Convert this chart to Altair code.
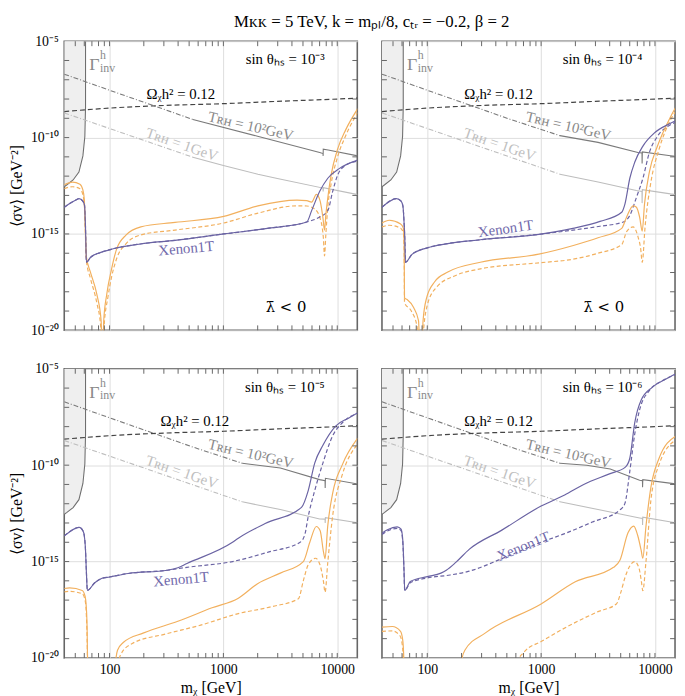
import altair as alt
import pandas as pd

FONT = "Liberation Serif"
ORANGE = "#f2b05e"
PURPLE = "#6a63a3"
PURPLE_TXT = "#7169ab"
OMEGA_C = "#444444"
TRH100_C = "#7a7a7a"
TRH1_C = "#bdbdbd"
FRAME_C = "#666666"

X_DOMAIN = [40, 15000]
Y_DOMAIN = [1e-20, 1e-5]
X_GRID = [100, 1000, 10000]
Y_GRID = [1e-20, 1e-15, 1e-10, 1e-5]
X_TICKS = [50, 60, 70, 80, 90, 100, 200, 300, 400, 500, 600, 700, 800, 900,
           1000, 2000, 3000, 4000, 5000, 6000, 7000, 8000, 9000, 10000]
Y_TICKS = [1e-19, 1e-18, 1e-17, 1e-16, 1e-15, 1e-14, 1e-13, 1e-12, 1e-11,
           1e-10, 1e-9, 1e-8, 1e-7, 1e-6]

# every curve: (log10 m_chi [GeV], log10 <sigma v> [GeV^-2])
GAMMA_INV = [(1.789, -5.0), (1.789, -8.44), (1.783, -9.94), (1.766, -10.95),
             (1.731, -11.79), (1.68, -12.2), (1.623, -12.46), (1.602, -12.55)]
OMEGA = [(1.602, -8.65), (2.0, -8.47), (2.5, -8.33), (3.0, -8.24), (3.474, -8.12),
         (4.0, -8.0), (4.18, -7.95)]
TRH100_DASHDOT_SHORT = [(1.602, -6.71), (2.018, -7.58), (2.732, -9.06)]
TRH100_DASHDOT_LONG = [(1.602, -6.71), (2.018, -7.58), (2.732, -9.06), (3.165, -9.9)]
TRH1_DASHDOT_SHORT = [(1.602, -8.72), (2.732, -11.02)]
TRH1_DASHDOT_LONG = [(1.602, -8.72), (2.732, -11.02), (3.165, -11.9)]

# ---- panel 1: sin theta = 1e-3
P1_TRH100_SOLID = [(2.732, -9.06), (3.3, -9.93), (3.846, -10.77), (3.875, -10.83),
                   (3.876, -10.95), (3.877, -10.6), (3.92, -10.64), (4.18, -10.95)]
P1_TRH1_SOLID = [(2.732, -11.02), (3.0, -11.45), (3.303, -11.9), (3.474, -12.12),
                 (3.875, -12.62), (3.876, -12.8), (3.878, -12.6), (4.18, -12.96)]
P1_PURPLE_SOLID = [(1.602, -13.62), (1.65, -13.42), (1.70, -13.25), (1.732, -13.17),
                   (1.765, -13.3), (1.78, -13.5), (1.788, -14.5), (1.797, -16.47),
                   (1.832, -16.22), (1.918, -15.97), (2.032, -15.77), (2.27, -15.52),
                   (2.575, -15.33), (3.003, -15.0), (3.4, -14.7), (3.732, -14.38),
                   (3.775, -13.79), (3.846, -12.79), (3.917, -12.11), (4.017, -11.61),
                   (4.18, -11.17)]
P1_PURPLE_DASHED = P1_PURPLE_SOLID[:16] + [(3.846, -14.12), (3.917, -13.79), (3.96, -12.79),
                                          (4.003, -11.95), (4.074, -11.44), (4.18, -11.22)]
P1_ORANGE_SOLID = [(1.602, -12.45), (1.675, -12.31), (1.74, -12.42), (1.765, -12.7),
                   (1.778, -13.2), (1.785, -14.3), (1.792, -15.6), (1.797, -16.2),
                   (1.832, -16.98), (1.889, -18.15), (1.926, -19.5), (1.938, -22.0),
                   (1.949, -19.5), (1.975, -18.14), (2.018, -16.81), (2.061, -15.8),
                   (2.146, -15.05), (2.275, -14.63), (2.575, -14.4), (3.003, -14.09),
                   (3.303, -13.54), (3.646, -13.24), (3.732, -13.27), (3.775, -13.35),
                   (3.817, -12.95), (3.85, -13.3), (3.875, -14.2), (3.888, -14.8),
                   (3.90, -14.0), (3.917, -13.12), (3.946, -11.95), (4.003, -10.6),
                   (4.074, -9.6), (4.18, -8.5)]
P1_ORANGE_DASHED = [(1.602, -12.65), (1.675, -12.55), (1.74, -12.65), (1.765, -12.95),
                    (1.778, -13.5), (1.785, -14.5), (1.792, -15.8), (1.797, -16.4),
                    (1.832, -17.3), (1.889, -18.6), (1.922, -19.8), (1.937, -22.5),
                    (1.952, -19.8), (1.985, -18.3), (2.018, -17.23), (2.061, -16.3),
                    (2.146, -15.5), (2.275, -15.05), (2.575, -14.8), (3.003, -14.43),
                    (3.303, -13.92), (3.646, -13.54), (3.732, -13.55), (3.80, -13.7),
                    (3.85, -14.2), (3.878, -15.2), (3.888, -16.14), (3.90, -15.0),
                    (3.917, -13.6), (3.946, -12.4), (4.003, -11.0), (4.074, -9.9),
                    (4.18, -8.7)]

# ---- panel 2: sin theta = 1e-4
P2_TRH100_SOLID = [(3.165, -9.9), (3.5, -10.25), (3.85, -10.77), (3.886, -10.8),
                   (3.887, -11.35), (3.889, -10.74), (4.136, -10.94), (4.18, -10.97)]
P2_TRH1_SOLID = [(3.165, -11.9), (3.5, -12.3), (3.836, -12.75), (3.886, -12.8),
                 (3.887, -13.4), (3.889, -12.7), (4.136, -12.92), (4.18, -12.95)]
P2_PURPLE_SOLID = [(1.602, -13.62), (1.729, -13.17), (1.77, -13.3), (1.786, -13.55),
                   (1.797, -14.5), (1.803, -15.3), (1.808, -16.47), (1.866, -16.06),
                   (2.0, -15.72), (2.18, -15.5), (2.466, -15.3), (2.98, -15.02),
                   (3.279, -14.71), (3.517, -14.35), (3.708, -13.87), (3.736, -13.45),
                   (3.779, -12.11), (3.822, -11.28), (3.894, -10.44), (3.993, -9.77),
                   (4.136, -9.26), (4.18, -9.13)]
P2_PURPLE_DASHED = P2_PURPLE_SOLID[:12] + [(3.279, -14.8), (3.517, -14.6), (3.722, -14.38),
                                          (3.779, -14.04), (3.836, -13.12), (3.894, -12.11),
                                          (3.951, -10.77), (4.022, -9.93), (4.136, -9.34),
                                          (4.18, -9.2)]
P2_ORANGE_SOLID = [(1.602, -14.43), (1.666, -14.29), (1.766, -14.48), (1.79, -14.7),
                   (1.797, -15.6), (1.80, -18.32), (1.823, -18.4), (1.88, -18.82),
                   (1.923, -19.5), (1.943, -22.5), (1.963, -19.5), (1.994, -18.32),
                   (2.065, -17.48), (2.18, -16.98), (2.466, -16.47), (2.98, -16.05),
                   (3.283, -15.6), (3.5, -15.2), (3.708, -14.71), (3.751, -14.12),
                   (3.808, -13.54), (3.835, -13.6), (3.865, -14.12), (3.888, -14.85),
                   (3.908, -13.45), (3.951, -11.78), (4.022, -10.44), (4.136, -8.93),
                   (4.18, -8.45)]
P2_ORANGE_DASHED = [(1.602, -14.63), (1.666, -14.55), (1.766, -14.7), (1.79, -14.95),
                    (1.797, -15.9), (1.80, -18.57), (1.86, -19.0), (1.91, -19.8),
                    (1.94, -22.5), (1.97, -19.8), (2.0, -18.7), (2.08, -17.77),
                    (2.24, -17.18), (2.466, -16.81), (2.98, -16.5), (3.279, -16.31),
                    (3.5, -16.0), (3.708, -15.55), (3.751, -14.88), (3.808, -14.63),
                    (3.85, -15.13), (3.875, -15.8), (3.888, -16.47), (3.913, -14.63),
                    (3.965, -12.28), (4.036, -10.6), (4.136, -9.09), (4.18, -8.65)]

# ---- panel 3: sin theta = 1e-5
P3_TRH100_SOLID = [(3.165, -9.9), (3.5, -10.15), (3.845, -10.75), (3.893, -10.8),
                   (3.894, -11.18), (3.896, -10.68), (4.18, -10.98)]
P3_TRH1_SOLID = [(3.165, -11.9), (3.5, -12.3), (3.845, -12.79), (3.893, -12.8),
                 (3.894, -13.0), (3.896, -12.72), (4.18, -12.99)]
P3_PURPLE_SOLID = [(1.602, -13.67), (1.65, -13.45), (1.734, -13.23), (1.77, -13.45),
                   (1.787, -14.2), (1.797, -15.6), (1.805, -16.5), (1.87, -16.1),
                   (1.934, -15.87), (2.0, -15.8), (2.163, -15.62), (2.507, -15.45),
                   (2.60, -15.32), (2.68, -15.1), (3.08, -14.0), (3.131, -13.79),
                   (3.367, -13.03), (3.686, -12.19), (3.745, -11.32), (3.802, -9.89),
                   (3.874, -8.97), (3.988, -7.96), (4.102, -7.55), (4.18, -7.28)]
P3_PURPLE_DASHED = P3_PURPLE_SOLID[:12] + [(2.68, -15.3), (3.08, -15.0), (3.4, -14.5),
                                          (3.674, -14.0), (3.716, -13.58), (3.745, -12.66),
                                          (3.802, -11.32), (3.874, -9.89), (3.96, -8.47),
                                          (4.045, -7.8), (4.18, -7.3)]
P3_ORANGE_SOLID = [(1.602, -16.4), (1.65, -16.37), (1.76, -16.5), (1.785, -16.8),
                   (1.795, -17.3), (1.803, -18.5), (1.81, -21.5), (1.82, -25.0),
                   (2.03, -25.0), (2.045, -20.8), (2.07, -19.6), (2.12, -19.2),
                   (2.3, -18.7), (2.6, -18.1), (2.9, -17.4), (3.131, -16.9),
                   (3.30, -16.15), (3.5, -15.6), (3.702, -15.0), (3.759, -14.0),
                   (3.816, -13.18), (3.85, -13.4), (3.879, -14.5), (3.893, -14.85),
                   (3.916, -13.18), (3.959, -11.48), (4.045, -9.97), (4.18, -8.6)]
P3_ORANGE_DASHED = [(1.602, -16.57), (1.65, -16.55), (1.76, -16.67), (1.785, -17.0),
                    (1.795, -17.6), (1.803, -19.0), (1.81, -21.5), (1.82, -25.0),
                    (2.05, -25.0), (2.065, -20.8), (2.1, -19.8), (2.2, -19.25),
                    (2.5, -18.75), (2.8, -18.3), (3.131, -17.7), (3.416, -17.35),
                    (3.659, -16.93), (3.702, -16.0), (3.745, -15.17), (3.81, -14.83),
                    (3.85, -15.2), (3.878, -16.0), (3.893, -16.59), (3.916, -15.1),
                    (3.959, -12.66), (4.045, -10.48), (4.18, -8.9)]

# ---- panel 4: sin theta = 1e-6
P4_TRH100_SOLID = [(3.165, -9.9), (3.4, -10.0), (3.607, -10.2), (3.865, -10.78),
                   (3.89, -10.8), (3.891, -11.15), (3.893, -10.75), (4.18, -10.97)]
P4_TRH1_SOLID = [(3.165, -11.9), (3.5, -12.3), (3.865, -12.74), (3.89, -12.77),
                 (3.891, -13.1), (3.893, -12.7), (4.18, -12.99)]
P4_PURPLE_SOLID = [(1.602, -13.53), (1.65, -13.35), (1.736, -13.2), (1.77, -13.32),
                   (1.785, -13.9), (1.795, -15.3), (1.802, -16.5), (1.851, -16.03),
                   (2.0, -15.78), (2.12, -15.6), (2.167, -15.45), (2.253, -15.03),
                   (2.368, -14.37), (2.655, -13.37), (3.0, -12.12), (3.207, -11.55),
                   (3.374, -11.0), (3.6, -10.45), (3.74, -10.1), (3.779, -9.64),
                   (3.822, -7.8), (3.878, -6.63), (3.979, -5.95), (4.093, -5.54),
                   (4.18, -5.27)]
P4_PURPLE_DASHED = [(1.602, -13.6), (1.65, -13.42), (1.736, -13.28), (1.77, -13.4),
                    (1.785, -14.0), (1.795, -15.4), (1.802, -16.5), (1.851, -16.1),
                    (2.0, -15.85), (2.2, -15.7), (2.368, -15.5), (2.655, -14.85),
                    (3.0, -14.0), (3.207, -13.55), (3.45, -12.95), (3.693, -12.32),
                    (3.736, -11.98), (3.779, -10.31), (3.822, -8.39), (3.865, -7.13),
                    (3.95, -6.13), (4.064, -5.62), (4.18, -5.3)]
P4_ORANGE_SOLID = [(1.602, -18.4), (1.693, -18.37), (1.765, -18.62), (1.785, -19.1),
                   (1.795, -20.3), (1.80, -22.0), (1.81, -25.0), (2.28, -25.0),
                   (2.296, -20.3), (2.33, -19.6), (2.511, -18.7), (3.0, -17.2),
                   (3.3, -16.05), (3.636, -15.3), (3.693, -14.92), (3.764, -13.49),
                   (3.813, -13.16), (3.849, -13.66), (3.878, -14.4), (3.893, -14.83),
                   (3.921, -13.16), (3.964, -11.15), (4.036, -9.64), (4.18, -8.5)]
P4_ORANGE_DASHED = [(1.602, -18.62), (1.693, -18.6), (1.76, -18.85), (1.78, -19.3),
                    (1.79, -20.3), (1.795, -22.0), (1.81, -25.0), (2.77, -25.0),
                    (2.784, -20.3), (2.85, -19.7), (3.0, -19.15), (3.287, -18.2),
                    (3.5, -17.6), (3.661, -17.2), (3.70, -16.6), (3.736, -15.84),
                    (3.822, -15.0), (3.86, -15.35), (3.88, -16.0), (3.893, -16.51),
                    (3.921, -15.0), (3.964, -11.82), (4.036, -9.97), (4.18, -8.7)]

# ---- text labels: (log10 m, log10 sv)
SIN_TEXT = ["sin θₕₛ = 10⁻³", "sin θₕₛ = 10⁻⁴", "sin θₕₛ = 10⁻⁵", "sin θₕₛ = 10⁻⁶"]
SIN_POS = (3.89, -6.2)
OMEGA_POS = [(2.626, -8.02), (2.626, -8.02), (2.75, -7.96), (2.626, -7.96)]
TRH100_POS = (3.24, -9.4)
TRH1_POS = (2.635, -10.35)
XENON_POS = [(2.673, -15.74), (2.688, -14.72), (2.628, -15.91), (2.843, -14.2)]
XENON_ANGLE = [355, 352, 355, 338]
LAMBDA_POS = (3.55, -19.04)
GAMMA_POS = (1.821, -6.49)
TITLE = "Mᴋᴋ = 5 TeV,  k = mₚₗ/8,  cₜᵣ = −0.2,  β = 2"

W, H = 297, 293


def frame(pairs):
    return pd.DataFrame({"m": [10.0 ** a for a, _ in pairs],
                         "sv": [10.0 ** b for _, b in pairs],
                         "k": list(range(len(pairs)))})


def panel(idx, curves, show_x, show_y):
    xs = alt.Scale(type="log", domain=X_DOMAIN, nice=False)
    ys = alt.Scale(type="log", domain=Y_DOMAIN, nice=False)
    xaxis = alt.Axis(values=X_GRID, format="d", labels=show_x,
                     title="mᵪ  [GeV]" if show_x else "",
                     grid=True, gridColor="#dddddd", gridWidth=1,
                     ticks=False, domain=False, labelFont=FONT, labelFontSize=14,
                     labelColor="black", labelPadding=5, titleFont=FONT,
                     titleFontSize=16, titleFontWeight="normal", titleColor="black",
                     titlePadding=3)
    yaxis = alt.Axis(values=Y_GRID, labels=show_y,
                     labelExpr="datum.value < 1e-17 ? '10⁻²⁰' : datum.value < 1e-12 ? '10⁻¹⁵' : datum.value < 1e-7 ? '10⁻¹⁰' : '10⁻⁵'",
                     title="⟨σv⟩  [GeV⁻²]" if show_y else "",
                     grid=True, gridColor="#dddddd", gridWidth=1,
                     ticks=False, domain=False, labelFont=FONT, labelFontSize=14,
                     labelColor="black", labelPadding=6, titleFont=FONT,
                     titleFontSize=16, titleFontWeight="normal", titleColor="black",
                     titlePadding=6)
    X = alt.X("m:Q", scale=xs, axis=xaxis)
    Y = alt.Y("sv:Q", scale=ys, axis=yaxis)

    def line(pairs, color, dash=None, width=1.2, interp="monotone"):
        kw = dict(color=color, strokeWidth=width, clip=True, interpolate=interp)
        if dash:
            kw["strokeDash"] = dash
        return alt.Chart(frame(pairs)).mark_line(**kw).encode(
            x=X, y=Y, order=alt.Order("k:Q"))

    def label(pos, text, color, size, align="center", baseline="middle",
              angle=0, dx=0, dy=0, font=FONT):
        df = pd.DataFrame({"m": [10.0 ** pos[0]], "sv": [10.0 ** pos[1]], "t": [text]})
        kw = dict(font=font, fontSize=size, color=color, align=align,
                  baseline=baseline, dx=dx, dy=dy)
        if angle:
            kw["angle"] = angle
        return alt.Chart(df).mark_text(**kw).encode(x=X, y=Y, text="t:N")

    gdf = frame(GAMMA_INV)
    gdf["m0"] = X_DOMAIN[0]
    gamma_fill = alt.Chart(gdf).mark_area(orient="horizontal", color="#efefef",
                                          clip=True).encode(
        y=Y, x=X, x2=alt.X2("m0:Q"))
    gamma_line = line(GAMMA_INV, "#6f6f6f", width=1.1, interp="linear")

    layers = [gamma_fill, gamma_line,
              line(curves["trh1_dd"], TRH1_C, dash=[5, 2, 1, 2], width=1.1, interp="linear"),
              line(curves["trh1"], TRH1_C, width=1.1, interp="linear"),
              line(curves["trh100_dd"], TRH100_C, dash=[5, 2, 1, 2], width=1.1, interp="linear"),
              line(curves["trh100"], TRH100_C, width=1.1, interp="linear"),
              line(OMEGA, OMEGA_C, dash=[5, 3], width=1.2, interp="monotone"),
              line(curves["orange_dashed"], ORANGE, dash=[4, 2.5]),
              line(curves["purple_dashed"], PURPLE, dash=[4, 2.5]),
              line(curves["orange_solid"], ORANGE),
              line(curves["purple_solid"], PURPLE),
              ]

    # inward frame ticks
    xt = pd.DataFrame({"m": X_TICKS})
    yt = pd.DataFrame({"sv": Y_TICKS})
    tk = dict(color=FRAME_C, strokeWidth=1)
    layers += [
        alt.Chart(xt).mark_rule(**tk).encode(x=X, y=alt.value(H), y2=alt.value(H - 5)),
        alt.Chart(xt).mark_rule(**tk).encode(x=X, y=alt.value(0), y2=alt.value(5)),
        alt.Chart(yt).mark_rule(**tk).encode(y=Y, x=alt.value(0), x2=alt.value(5)),
        alt.Chart(yt).mark_rule(**tk).encode(y=Y, x=alt.value(W), x2=alt.value(W - 5)),
    ]

    # texts
    layers += [
        label(GAMMA_POS, "Γ", "#8a8a8a", 18, align="left", baseline="alphabetic"),
        label(GAMMA_POS, "h", "#8a8a8a", 12, align="left", baseline="alphabetic", dx=11, dy=-11),
        label(GAMMA_POS, "inv", "#8a8a8a", 12, align="left", baseline="alphabetic", dx=11, dy=2),
        label(SIN_POS, SIN_TEXT[idx], "black", 15, align="right", baseline="alphabetic"),
        label(OMEGA_POS[idx], "Ωᵪh² = 0.12", "black", 15, baseline="alphabetic"),
        label(TRH100_POS, "Tʀʜ = 10²GeV", "#8a8a8a", 15, angle=13),
        label(TRH1_POS, "Tʀʜ = 1GeV", "#c0c0c0", 15, angle=19),
        label(XENON_POS[idx], "Xenon1T", PURPLE_TXT, 15, angle=XENON_ANGLE[idx]),
    ]
    if idx < 2:
        layers.append(label(LAMBDA_POS, "λ̄ < 0", "black", 15, baseline="alphabetic",
                            font="DejaVu Serif"))

    return alt.layer(*layers).properties(width=W, height=H)


PANELS = [
    dict(trh1_dd=TRH1_DASHDOT_SHORT, trh1=P1_TRH1_SOLID, trh100_dd=TRH100_DASHDOT_SHORT,
         trh100=P1_TRH100_SOLID, orange_solid=P1_ORANGE_SOLID, orange_dashed=P1_ORANGE_DASHED,
         purple_solid=P1_PURPLE_SOLID, purple_dashed=P1_PURPLE_DASHED),
    dict(trh1_dd=TRH1_DASHDOT_LONG, trh1=P2_TRH1_SOLID, trh100_dd=TRH100_DASHDOT_LONG,
         trh100=P2_TRH100_SOLID, orange_solid=P2_ORANGE_SOLID, orange_dashed=P2_ORANGE_DASHED,
         purple_solid=P2_PURPLE_SOLID, purple_dashed=P2_PURPLE_DASHED),
    dict(trh1_dd=TRH1_DASHDOT_LONG, trh1=P3_TRH1_SOLID, trh100_dd=TRH100_DASHDOT_LONG,
         trh100=P3_TRH100_SOLID, orange_solid=P3_ORANGE_SOLID, orange_dashed=P3_ORANGE_DASHED,
         purple_solid=P3_PURPLE_SOLID, purple_dashed=P3_PURPLE_DASHED),
    dict(trh1_dd=TRH1_DASHDOT_LONG, trh1=P4_TRH1_SOLID, trh100_dd=TRH100_DASHDOT_LONG,
         trh100=P4_TRH100_SOLID, orange_solid=P4_ORANGE_SOLID, orange_dashed=P4_ORANGE_DASHED,
         purple_solid=P4_PURPLE_SOLID, purple_dashed=P4_PURPLE_DASHED),
]

p1 = panel(0, PANELS[0], show_x=False, show_y=True)
p2 = panel(1, PANELS[1], show_x=False, show_y=False)
p3 = panel(2, PANELS[2], show_x=True, show_y=True)
p4 = panel(3, PANELS[3], show_x=True, show_y=False)

chart = alt.vconcat(
    alt.hconcat(p1, p2, spacing=21),
    alt.hconcat(p3, p4, spacing=21),
    spacing=23,
).properties(
    title=alt.TitleParams(TITLE, font=FONT, fontSize=17, fontWeight="normal",
                          anchor="middle", color="black", offset=3, dx=30),
    padding={"left": 0, "top": 0, "right": 0, "bottom": 0},
).configure_view(stroke=FRAME_C, strokeWidth=1.6)

chart.save("out.html", embed_options={"renderer": "svg", "actions": False})
